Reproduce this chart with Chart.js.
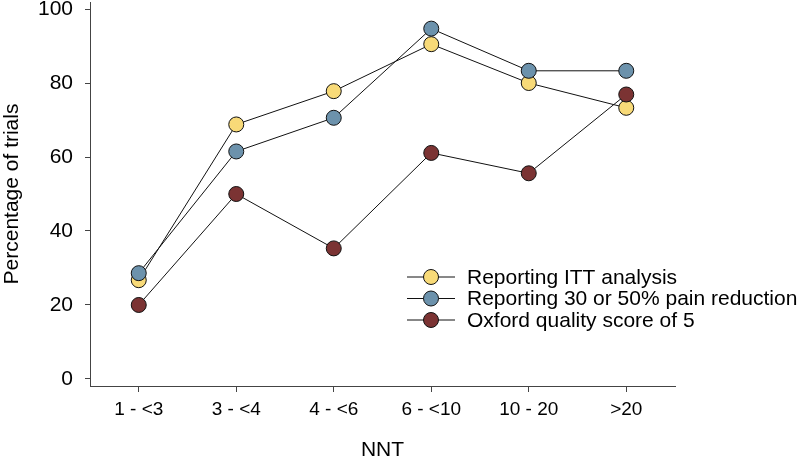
<!DOCTYPE html>
<html>
<head>
<meta charset="utf-8">
<script src="https://cdn.jsdelivr.net/npm/chart.js@4/dist/chart.umd.min.js"></script>
<style>
  body { margin: 0; background: #fff; }
</style>
</head>
<body>
<canvas id="js-nnt-chart" width="800" height="461"></canvas>
<script>
const categories = ['1 - <3', '3 - <4', '4 - <6', '6 - <10', '10 - 20', '>20'];
const ittValues = [26.7, 68.8, 77.8, 90.5, 80.0, 73.3];
const painValues = [28.6, 61.5, 70.6, 94.7, 83.3, 83.3];
const oxfordValues = [20.0, 50.0, 35.3, 61.1, 55.6, 76.9];
const seriesLabels = ['Reporting ITT analysis', 'Reporting 30 or 50% pain reduction', 'Oxford quality score of 5'];
const yTicks = [0, 20, 40, 60, 80, 100];

const FONT = "'Liberation Sans', Arial, sans-serif";
const axisColor = '#444';

function makeSeries(label, values, fill, order) {
  return {
    label: label,
    data: values,
    borderColor: '#111',
    borderWidth: 1,
    backgroundColor: fill,
    pointBackgroundColor: fill,
    pointBorderColor: '#111',
    pointBorderWidth: 1,
    pointRadius: 7.5,
    pointHoverRadius: 7.5,
    tension: 0,
    order: order
  };
}

// 凡例はプロット領域の中に描く
const insideLegend = {
  id: 'insideLegend',
  afterDraw: function (chart) {
    const ctx = chart.ctx;
    ctx.save();
    chart.data.datasets.forEach(function (ds, i) {
      const y = 277 + i * 21.5;
      ctx.strokeStyle = '#111';
      ctx.lineWidth = 1;
      ctx.beginPath();
      ctx.moveTo(407, y);
      ctx.lineTo(455, y);
      ctx.stroke();
      ctx.beginPath();
      ctx.arc(431, y, 7.5, 0, Math.PI * 2);
      ctx.fillStyle = ds.pointBackgroundColor;
      ctx.fill();
      ctx.stroke();
      ctx.fillStyle = '#000';
      ctx.font = '21px ' + FONT;
      ctx.textAlign = 'left';
      ctx.textBaseline = 'middle';
      ctx.fillText(ds.label, 467, y + 1);
    });
    ctx.restore();
  }
};

const ctx = document.getElementById('js-nnt-chart').getContext('2d');

new Chart(ctx, {
  type: 'line',
  data: {
    labels: categories,
    datasets: [
      makeSeries(seriesLabels[0], ittValues, '#F8DA78', 3),
      makeSeries(seriesLabels[1], painValues, '#6C92AC', 2),
      makeSeries(seriesLabels[2], oxfordValues, '#7B3333', 1)
    ]
  },
  options: {
    responsive: false,
    animation: false,
    layout: { autoPadding: false, padding: { top: 2, right: 125, left: 0, bottom: 0 } },
    plugins: {
      legend: { display: false },
      tooltip: { enabled: false }
    },
    scales: {
      x: {
        type: 'category',
        offset: true,
        grid: { display: true, offset: false, drawOnChartArea: false, tickLength: 6, color: axisColor },
        border: { display: true, color: axisColor, width: 1 },
        ticks: { color: '#000', font: { family: FONT, size: 19 }, padding: 6, maxRotation: 0 },
        title: { display: true, text: 'NNT', color: '#000', font: { family: FONT, size: 21 }, padding: { top: 0, bottom: -2 } },
        afterFit: function (scale) { scale.height = 75; }
      },
      y: {
        min: -1.9,
        max: 101.9,
        afterBuildTicks: function (scale) {
          scale.ticks = yTicks.map(function (v) { return { value: v }; });
        },
        grid: { display: true, drawOnChartArea: false, tickLength: 5, color: axisColor },
        border: { display: true, color: axisColor, width: 1 },
        ticks: { color: '#000', font: { family: FONT, size: 21 }, padding: 12 },
        title: { display: true, text: 'Percentage of trials', color: '#000', font: { family: FONT, size: 21 }, padding: 0 },
        afterFit: function (scale) {
          scale.width = 90;
          scale.paddingTop = 0;
          scale.paddingBottom = 0;
        }
      }
    }
  },
  plugins: [insideLegend]
});
</script>
</body>
</html>
